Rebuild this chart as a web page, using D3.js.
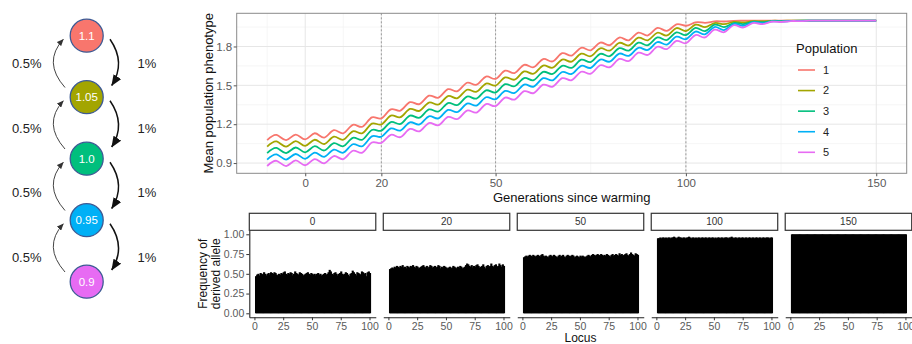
<!DOCTYPE html>
<html>
<head>
<meta charset="utf-8">
<script src="https://cdn.jsdelivr.net/npm/d3@7"></script>
<style>
  body { margin: 0; background: #fff; }
  svg { display: block; font-family: "Liberation Sans", Arial, Helvetica, sans-serif; }
</style>
</head>
<body>
<svg id="chart" width="912" height="344"></svg>
<script>
// ---- migration diagram ----
const optima = ["1.1", "1.05", "1.0", "0.95", "0.9"];
const popColors = ["#F8766D", "#A3A500", "#00BF7D", "#00B0F6", "#E76BF3"];
const downRate = "1%";
const upRate = "0.5%";

// ---- mean phenotype through time ----
const populations = ["1", "2", "3", "4", "5"];
const generations = [-10, -7.5, -5, -2.5, 0, 2.5, 5, 7.5, 10, 12.5, 15, 17.5, 20, 22.5, 25, 27.5, 30, 32.5, 35, 37.5,
  40, 42.5, 45, 47.5, 50, 52.5, 55, 57.5, 60, 62.5, 65, 67.5, 70, 72.5, 75, 77.5, 80, 82.5, 85, 87.5,
  90, 92.5, 95, 97.5, 100, 102.5, 105, 107.5, 110, 112.5, 115, 117.5, 120, 122.5, 125, 127.5, 130, 132.5, 135, 137.5,
  140, 142.5, 145, 147.5, 150];
const pop1 = [1.077, 1.117, 1.077, 1.120, 1.083, 1.130, 1.097, 1.154, 1.130, 1.195, 1.180, 1.253, 1.245, 1.315, 1.305, 1.370, 1.355, 1.420, 1.405, 1.470,
  1.455, 1.520, 1.505, 1.568, 1.550, 1.613, 1.595, 1.658, 1.640, 1.703, 1.685, 1.748, 1.730, 1.790, 1.770, 1.830, 1.810, 1.869, 1.848, 1.907,
  1.885, 1.943, 1.920, 1.971, 1.960, 1.986, 1.983, 1.994, 1.993, 1.998, 1.999, 2.0, 2.0, 2.0, 2.0, 2.0, 2.0, 2.0, 2.0, 2.0,
  2.0, 2.0, 2.0, 2.0, 2.0];
const pop2 = [1.027, 1.067, 1.027, 1.070, 1.033, 1.080, 1.047, 1.104, 1.080, 1.145, 1.130, 1.204, 1.198, 1.266, 1.254, 1.318, 1.303, 1.367, 1.352, 1.417,
  1.401, 1.466, 1.451, 1.514, 1.498, 1.561, 1.544, 1.607, 1.590, 1.653, 1.636, 1.699, 1.683, 1.744, 1.725, 1.786, 1.768, 1.828, 1.808, 1.868,
  1.848, 1.906, 1.885, 1.942, 1.919, 1.968, 1.950, 1.981, 1.972, 1.990, 1.985, 1.995, 1.993, 1.998, 1.998, 1.999, 1.999, 2.0, 2.0, 2.0,
  2.0, 2.0, 2.0, 2.0, 2.0];
const pop3 = [0.977, 1.017, 0.977, 1.020, 0.983, 1.030, 0.997, 1.054, 1.030, 1.095, 1.080, 1.155, 1.150, 1.216, 1.202, 1.266, 1.250, 1.314, 1.298, 1.363,
  1.348, 1.413, 1.398, 1.461, 1.445, 1.509, 1.493, 1.556, 1.540, 1.604, 1.588, 1.651, 1.635, 1.698, 1.680, 1.743, 1.725, 1.787, 1.768, 1.829,
  1.810, 1.870, 1.850, 1.909, 1.888, 1.943, 1.918, 1.968, 1.950, 1.981, 1.973, 1.990, 1.987, 1.995, 1.995, 1.997, 1.999, 2.0, 2.0, 2.0,
  2.0, 2.0, 2.0, 2.0, 2.0];
const pop4 = [0.927, 0.967, 0.927, 0.970, 0.933, 0.981, 0.948, 1.004, 0.980, 1.045, 1.030, 1.106, 1.103, 1.167, 1.151, 1.214, 1.198, 1.261, 1.245, 1.310,
  1.294, 1.359, 1.344, 1.408, 1.393, 1.457, 1.441, 1.506, 1.490, 1.555, 1.539, 1.603, 1.588, 1.651, 1.635, 1.699, 1.683, 1.745, 1.728, 1.790,
  1.773, 1.834, 1.815, 1.876, 1.856, 1.915, 1.894, 1.950, 1.927, 1.973, 1.960, 1.986, 1.980, 1.993, 1.992, 1.997, 1.998, 1.999, 2.0, 2.0,
  2.0, 2.0, 2.0, 2.0, 2.0];
const pop5 = [0.877, 0.917, 0.877, 0.920, 0.883, 0.931, 0.898, 0.954, 0.930, 0.995, 0.980, 1.058, 1.055, 1.118, 1.100, 1.163, 1.145, 1.209, 1.192, 1.256,
  1.240, 1.305, 1.290, 1.355, 1.340, 1.405, 1.390, 1.455, 1.440, 1.505, 1.490, 1.555, 1.540, 1.605, 1.590, 1.655, 1.640, 1.704, 1.688, 1.752,
  1.735, 1.798, 1.780, 1.843, 1.825, 1.888, 1.870, 1.930, 1.910, 1.964, 1.946, 1.980, 1.973, 1.991, 1.989, 1.996, 1.996, 1.999, 2.0, 2.0,
  2.0, 2.0, 2.0, 2.0, 2.0];
const genTicks = [0, 20, 50, 100, 150];
const genMinor = [-10, 10, 35, 75, 125];
const phenoTicks = [0.9, 1.2, 1.5, 1.8];
const phenoMinor = [1.05, 1.35, 1.65, 1.95];
const markedGens = [20, 50, 100];

// ---- derived allele frequency per locus, snapshots ----
const facets = ["0", "20", "50", "100", "150"];
const freqGen0 = [0.47, 0.49, 0.50, 0.48, 0.51, 0.50, 0.49, 0.52, 0.50, 0.48,
  0.50, 0.51, 0.49, 0.52, 0.51, 0.50, 0.52, 0.51, 0.49, 0.48,
  0.50, 0.49, 0.51, 0.50, 0.52, 0.53, 0.50, 0.49, 0.51, 0.50,
  0.52, 0.51, 0.48, 0.50, 0.53, 0.51, 0.50, 0.49, 0.52, 0.51,
  0.50, 0.48, 0.49, 0.50, 0.51, 0.52, 0.50, 0.49, 0.51, 0.50,
  0.49, 0.50, 0.48, 0.50, 0.51, 0.49, 0.50, 0.48, 0.49, 0.50,
  0.51, 0.49, 0.50, 0.52, 0.55, 0.53, 0.50, 0.49, 0.51, 0.52,
  0.50, 0.48, 0.50, 0.51, 0.53, 0.50, 0.49, 0.50, 0.52, 0.51,
  0.49, 0.47, 0.50, 0.51, 0.54, 0.52, 0.50, 0.48, 0.52, 0.51,
  0.50, 0.49, 0.53, 0.52, 0.50, 0.51, 0.47, 0.52, 0.53, 0.51];
const freqGen20 = [0.56, 0.57, 0.58, 0.57, 0.59, 0.58, 0.60, 0.59, 0.58, 0.60,
  0.59, 0.61, 0.58, 0.59, 0.57, 0.60, 0.59, 0.58, 0.60, 0.59,
  0.61, 0.59, 0.58, 0.60, 0.59, 0.57, 0.58, 0.59, 0.60, 0.61,
  0.59, 0.58, 0.60, 0.57, 0.59, 0.61, 0.60, 0.58, 0.59, 0.60,
  0.58, 0.59, 0.61, 0.60, 0.57, 0.59, 0.58, 0.60, 0.59, 0.58,
  0.57, 0.58, 0.59, 0.57, 0.58, 0.60, 0.59, 0.58, 0.57, 0.59,
  0.58, 0.60, 0.59, 0.57, 0.58, 0.59, 0.61, 0.63, 0.62, 0.60,
  0.59, 0.61, 0.58, 0.60, 0.59, 0.61, 0.62, 0.60, 0.58, 0.59,
  0.60, 0.62, 0.59, 0.57, 0.60, 0.61, 0.59, 0.60, 0.63, 0.60,
  0.59, 0.61, 0.62, 0.59, 0.60, 0.63, 0.61, 0.59, 0.62, 0.60];
const freqGen50 = [0.71, 0.72, 0.73, 0.72, 0.73, 0.74, 0.73, 0.72, 0.74, 0.73,
  0.72, 0.73, 0.74, 0.73, 0.72, 0.74, 0.75, 0.73, 0.72, 0.73,
  0.72, 0.71, 0.73, 0.74, 0.73, 0.72, 0.74, 0.73, 0.72, 0.71,
  0.73, 0.74, 0.72, 0.73, 0.74, 0.72, 0.71, 0.73, 0.74, 0.73,
  0.72, 0.73, 0.74, 0.73, 0.71, 0.72, 0.73, 0.72, 0.71, 0.73,
  0.72, 0.73, 0.72, 0.71, 0.72, 0.73, 0.74, 0.73, 0.72, 0.74,
  0.75, 0.74, 0.73, 0.74, 0.75, 0.74, 0.73, 0.75, 0.74, 0.73,
  0.74, 0.73, 0.75, 0.74, 0.73, 0.72, 0.74, 0.75, 0.73, 0.74,
  0.75, 0.74, 0.73, 0.76, 0.74, 0.75, 0.73, 0.74, 0.75, 0.76,
  0.74, 0.73, 0.75, 0.77, 0.75, 0.74, 0.73, 0.76, 0.75, 0.74];
const freqGen100 = [0.95, 0.95, 0.96, 0.95, 0.96, 0.96, 0.95, 0.96, 0.95, 0.96,
  0.96, 0.95, 0.96, 0.96, 0.97, 0.96, 0.95, 0.96, 0.97, 0.96,
  0.96, 0.95, 0.96, 0.96, 0.95, 0.96, 0.96, 0.97, 0.96, 0.95,
  0.96, 0.96, 0.95, 0.96, 0.95, 0.96, 0.96, 0.95, 0.96, 0.96,
  0.95, 0.96, 0.96, 0.95, 0.96, 0.96, 0.95, 0.96, 0.96, 0.95,
  0.96, 0.95, 0.96, 0.96, 0.95, 0.96, 0.96, 0.95, 0.96, 0.96,
  0.96, 0.95, 0.96, 0.96, 0.97, 0.96, 0.95, 0.96, 0.96, 0.95,
  0.96, 0.96, 0.95, 0.96, 0.96, 0.95, 0.96, 0.96, 0.95, 0.96,
  0.96, 0.95, 0.96, 0.96, 0.95, 0.96, 0.96, 0.95, 0.96, 0.96,
  0.95, 0.96, 0.96, 0.95, 0.96, 0.96, 0.96, 0.95, 0.96, 0.96];
const freqGen150 = [1, 1, 1, 1, 1, 1, 1, 1, 1, 1,
  1, 1, 1, 1, 1, 1, 1, 1, 1, 1,
  1, 1, 1, 1, 1, 1, 1, 1, 1, 1,
  1, 1, 1, 1, 1, 1, 1, 1, 1, 1,
  1, 1, 1, 1, 1, 1, 1, 1, 1, 1,
  1, 1, 1, 1, 1, 1, 1, 1, 1, 1,
  1, 1, 1, 1, 1, 1, 1, 1, 1, 1,
  1, 1, 1, 1, 1, 1, 1, 1, 1, 1,
  1, 1, 1, 1, 1, 1, 1, 1, 1, 1,
  1, 1, 1, 1, 1, 1, 1, 1, 1, 1];
const locusTicks = [0, 25, 50, 75, 100];
const freqTicks = [0, 0.25, 0.5, 0.75, 1];

const svg = d3.select("#chart");

// ================= left diagram =================
const defs = svg.append("defs");
function arrowHead(id, len, wid, color) {
  defs.append("marker")
    .attr("id", id)
    .attr("viewBox", `0 0 ${len} ${wid}`)
    .attr("refX", len - 0.5).attr("refY", wid / 2)
    .attr("markerWidth", len).attr("markerHeight", wid)
    .attr("markerUnits", "userSpaceOnUse")
    .attr("orient", "auto")
    .append("path")
    .attr("d", `M0,0L${len},${wid / 2}L0,${wid}Z`)
    .attr("fill", color);
}
arrowHead("headDown", 11, 9, "#111");
arrowHead("headUp", 7, 6, "#333");

const cx = 86.7, rad = 16.5;
const cy = d3.scaleLinear().domain([0, optima.length - 1]).range([35.7, 281.7]);
const rateY = d3.scaleLinear().domain([0, optima.length - 2]).range([63.3, 257.3]);
const diag = svg.append("g");
const pairs = d3.range(optima.length - 1);

// down arrows (1%) on the right
diag.selectAll(".down").data(pairs).join("path")
  .attr("class", "down")
  .attr("d", i => {
    const a = cy(i), b = cy(i + 1), m = (a + b) / 2;
    return `M${cx + 23.3},${a + 3.6}Q${cx + 39.5},${m - 3.7} ${cx + 25},${b - 11.7}`;
  })
  .attr("fill", "none").attr("stroke", "#111").attr("stroke-width", 1.5)
  .attr("marker-end", "url(#headDown)");

// up arrows (0.5%) on the left
diag.selectAll(".up").data(pairs).join("path")
  .attr("class", "up")
  .attr("d", i => {
    const a = cy(i), b = cy(i + 1), m = (a + b) / 2;
    return `M${cx - 21.7},${b - 9.7}Q${cx - 44.2},${m - 4.3} ${cx - 23.4},${a + 3.6}`;
  })
  .attr("fill", "none").attr("stroke", "#444").attr("stroke-width", 1)
  .attr("marker-end", "url(#headUp)");

diag.selectAll("circle").data(optima).join("circle")
  .attr("cx", cx).attr("cy", (d, i) => cy(i)).attr("r", rad)
  .attr("fill", (d, i) => popColors[i])
  .attr("stroke", "#3d5a94").attr("stroke-width", 1.3);

diag.selectAll(".opt").data(optima).join("text")
  .attr("class", "opt")
  .attr("x", cx).attr("y", (d, i) => cy(i)).attr("dy", "0.35em")
  .attr("text-anchor", "middle").attr("fill", "#fff")
  .style("font-size", "11.5px")
  .text(d => d);

diag.selectAll(".rateUp").data(pairs).join("text")
  .attr("class", "rateUp")
  .attr("x", 26.7).attr("y", i => rateY(i)).attr("dy", "0.35em")
  .attr("text-anchor", "middle").attr("fill", "#222")
  .style("font-size", "13px")
  .text(upRate);
diag.selectAll(".rateDown").data(pairs).join("text")
  .attr("class", "rateDown")
  .attr("x", 147).attr("y", i => rateY(i)).attr("dy", "0.35em")
  .attr("text-anchor", "middle").attr("fill", "#222")
  .style("font-size", "13px")
  .text(downRate);

// ================= top: mean phenotype =================
const P = { left: 236.7, right: 906.7, top: 13.3, bottom: 173.3 };
const series = [pop1, pop2, pop3, pop4, pop5].map((vals, k) => ({
  name: populations[k],
  color: popColors[k],
  values: generations.map((g, i) => ({ g, v: vals[i] }))
}));

const gExt = d3.extent(generations);
const gPad = (gExt[1] - gExt[0]) * 0.05;
const x = d3.scaleLinear().domain([gExt[0] - gPad, gExt[1] + gPad]).range([P.left, P.right]);
const vExt = d3.extent(series.flatMap(s => s.values.map(d => d.v)));
const vPad = (vExt[1] - vExt[0]) * 0.05;
const y = d3.scaleLinear().domain([vExt[0] - vPad, vExt[1] + vPad]).range([P.bottom, P.top]);

const topG = svg.append("g");
topG.append("rect")
  .attr("x", P.left).attr("y", P.top)
  .attr("width", P.right - P.left).attr("height", P.bottom - P.top)
  .attr("fill", "#fff");

// grid
topG.selectAll(".minorY").data(phenoMinor).join("line")
  .attr("x1", P.left).attr("x2", P.right)
  .attr("y1", d => y(d)).attr("y2", d => y(d))
  .attr("stroke", "#f2f2f2").attr("stroke-width", 0.7);
topG.selectAll(".minorX").data(genMinor).join("line")
  .attr("y1", P.top).attr("y2", P.bottom)
  .attr("x1", d => x(d)).attr("x2", d => x(d))
  .attr("stroke", "#f2f2f2").attr("stroke-width", 0.7);
topG.selectAll(".majorY").data(phenoTicks).join("line")
  .attr("x1", P.left).attr("x2", P.right)
  .attr("y1", d => y(d)).attr("y2", d => y(d))
  .attr("stroke", "#e6e6e6").attr("stroke-width", 1);
topG.selectAll(".majorX").data(genTicks).join("line")
  .attr("y1", P.top).attr("y2", P.bottom)
  .attr("x1", d => x(d)).attr("x2", d => x(d))
  .attr("stroke", "#e6e6e6").attr("stroke-width", 1);

// marked generations
topG.selectAll(".mark").data(markedGens).join("line")
  .attr("y1", P.top).attr("y2", P.bottom)
  .attr("x1", d => x(d)).attr("x2", d => x(d))
  .attr("stroke", "#9a9a9a").attr("stroke-width", 1)
  .attr("stroke-dasharray", "2,2");

const line = d3.line()
  .x(d => x(d.g))
  .y(d => y(d.v))
  .curve(d3.curveNatural);

topG.selectAll(".pop").data(series).join("path")
  .attr("class", "pop")
  .attr("d", d => line(d.values))
  .attr("fill", "none")
  .attr("stroke", d => d.color)
  .attr("stroke-width", 1.8);

topG.append("rect")
  .attr("x", P.left).attr("y", P.top)
  .attr("width", P.right - P.left).attr("height", P.bottom - P.top)
  .attr("fill", "none").attr("stroke", "#8a8a8a").attr("stroke-width", 1);

const xAxisTop = topG.append("g")
  .attr("transform", `translate(0,${P.bottom})`)
  .call(d3.axisBottom(x).tickValues(genTicks).tickSize(3).tickPadding(2.5).tickFormat(d3.format("d")));
const yAxisTop = topG.append("g")
  .attr("transform", `translate(${P.left},0)`)
  .call(d3.axisLeft(y).tickValues(phenoTicks).tickSize(3).tickPadding(1.5).tickFormat(d3.format(".1f")));
[xAxisTop, yAxisTop].forEach(a => {
  a.select(".domain").remove();
  a.selectAll(".tick line").attr("stroke", "#555");
  a.selectAll("text").attr("fill", "#5a5a5a").style("font-size", "11.5px");
  a.attr("font-family", null);
});

topG.append("text")
  .attr("x", (P.left + P.right) / 2).attr("y", 202)
  .attr("text-anchor", "middle").attr("fill", "#111")
  .style("font-size", "13px")
  .text("Generations since warming");
topG.append("text")
  .attr("transform", `translate(208.3,${(P.top + P.bottom) / 2}) rotate(-90)`)
  .attr("dy", "0.35em")
  .attr("text-anchor", "middle").attr("fill", "#111")
  .style("font-size", "13px")
  .text("Mean population phenotype");

// legend
const leg = topG.append("g").attr("transform", "translate(796,0)");
leg.append("text")
  .attr("x", 0).attr("y", 52.5)
  .attr("fill", "#111").style("font-size", "13px")
  .text("Population");
const legY = d3.scaleLinear().domain([0, populations.length - 1]).range([70, 152.3]);
leg.selectAll(".key").data(series).join("line")
  .attr("x1", 2).attr("x2", 19)
  .attr("y1", (d, i) => legY(i)).attr("y2", (d, i) => legY(i))
  .attr("stroke", d => d.color).attr("stroke-width", 1.6);
leg.selectAll(".lab").data(series).join("text")
  .attr("x", 27).attr("y", (d, i) => legY(i)).attr("dy", "0.35em")
  .attr("fill", "#222").style("font-size", "11px")
  .text(d => d.name);

// ================= bottom: allele frequency facets =================
const freqs = [freqGen0, freqGen20, freqGen50, freqGen100, freqGen150];
const fx = d3.scaleBand().domain(facets).range([249.3, 911.7]).paddingInner(0.056);
const fy = d3.scaleLinear().domain([-0.05, 1.05]).range([317.25, 230.35]);
const nLoci = freqGen0.length;
const lPad = (nLoci - 0.1) * 0.05;
const lx = d3.scaleLinear().domain([0.55 - lPad, nLoci + 0.45 + lPad]).range([0, fx.bandwidth()]);
const stripTop = 213.3, stripH = 17;

const panels = svg.selectAll(".facet").data(facets).join("g")
  .attr("class", "facet")
  .attr("transform", d => `translate(${fx(d)},0)`);

panels.append("rect")
  .attr("x", 0).attr("y", stripTop)
  .attr("width", fx.bandwidth()).attr("height", stripH)
  .attr("fill", "#fff").attr("stroke", "#333").attr("stroke-width", 1.2);
panels.append("text")
  .attr("x", fx.bandwidth() / 2).attr("y", stripTop + stripH / 2).attr("dy", "0.35em")
  .attr("text-anchor", "middle").attr("fill", "#333")
  .style("font-size", "10px")
  .text(d => d);

panels.each(function (f, k) {
  const g = d3.select(this);
  const bw = lx(1) - lx(0);
  g.selectAll(".bar").data(freqs[k]).join("rect")
    .attr("class", "bar")
    .attr("x", (v, i) => lx(i + 1) - bw / 2)
    .attr("width", bw + 1)
    .attr("y", v => fy(v))
    .attr("height", v => fy(0) - fy(v))
    .attr("fill", "#000");

  const ax = g.append("g")
    .attr("transform", `translate(0,${fy.range()[0]})`)
    .call(d3.axisBottom(lx).tickValues(locusTicks).tickSize(3).tickSizeOuter(0).tickPadding(2));
  ax.select(".domain").attr("stroke", "#222").attr("stroke-width", 1.1);
  ax.selectAll(".tick line").attr("stroke", "#333");
  ax.selectAll("text").attr("fill", "#5a5a5a").style("font-size", "10.5px");
  ax.attr("font-family", null);

  if (k === 0) {
    const ay = g.append("g")
      .call(d3.axisLeft(fy).tickValues(freqTicks).tickSize(3).tickSizeOuter(0).tickPadding(2).tickFormat(d3.format(".2f")));
    ay.select(".domain").attr("stroke", "#222").attr("stroke-width", 1.1);
    ay.selectAll(".tick line").attr("stroke", "#333");
    ay.selectAll("text").attr("fill", "#5a5a5a").style("font-size", "10.5px");
    ay.attr("font-family", null);
  }
});

const fyMid = (fy.range()[0] + fy.range()[1]) / 2;
svg.append("text")
  .attr("transform", `translate(0,${fyMid}) rotate(-90)`)
  .attr("text-anchor", "middle").attr("fill", "#111")
  .style("font-size", "12px")
  .selectAll("tspan").data(["Frequency of", "derived allele"]).join("tspan")
  .attr("x", 0).attr("y", (d, i) => 207 + i * 12.5)
  .text(d => d);

svg.append("text")
  .attr("x", (fx.range()[0] + fx.range()[1]) / 2).attr("y", 342)
  .attr("text-anchor", "middle").attr("fill", "#111")
  .style("font-size", "12px")
  .text("Locus");
</script>
</body>
</html>
